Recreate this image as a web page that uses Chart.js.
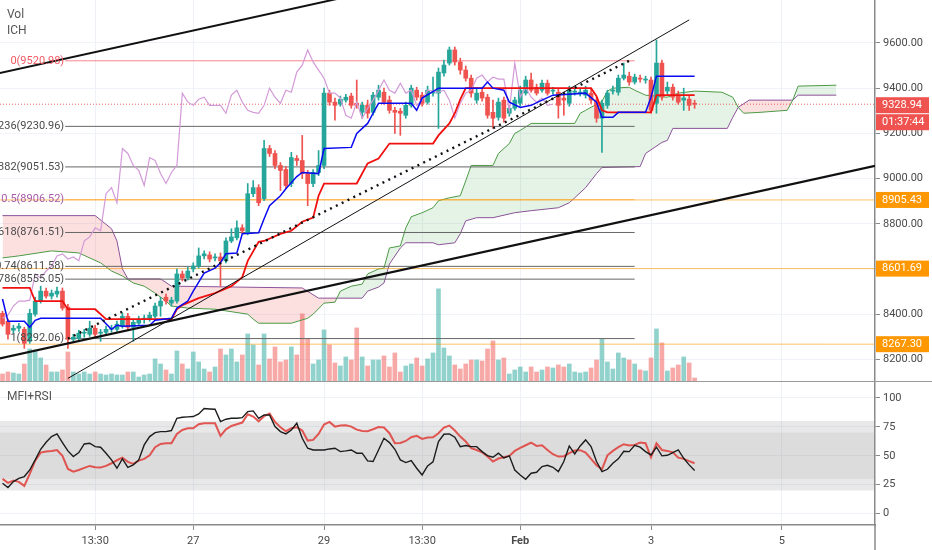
<!DOCTYPE html>
<html lang="en">
<head>
<meta charset="UTF-8">
<title>BTC 2h Ichimoku</title>
<script src="https://cdn.jsdelivr.net/npm/chart.js"></script>
<style>
  body { margin: 0; background: #fff; }
  #wrap { position: relative; width: 932px; height: 550px; overflow: hidden; }
  canvas { position: absolute; left: 0; }
  #main { top: 0; }
  #osc { top: 382px; }
</style>
</head>
<body>
<div id="wrap">
  <canvas id="main" width="932" height="382"></canvas>
  <canvas id="osc" width="932" height="168"></canvas>
</div>
<script>
// axis ticks
const priceTicks = [8200, 8400, 8600, 8800, 9000, 9200, 9400, 9600];
const oscTicks = [0, 25, 50, 75, 100];
const dayTicks = [17, 35, 59, 77, 95, 119, 143];
const dayLabels = ['13:30', '27', '29', '13:30', 'Feb', '3', '5'];

// 2h candles, index 0..127
const opens = [8404,8369,8329,8338,8333,8280,8400,8458,8502,8480,
  8489,8502,8431,8289,8293,8316,8311,8338,8316,8320,
  8333,8333,8347,8391,8342,8360,8378,8378,8391,8436,
  8475,8449,8458,8578,8560,8600,8613,8658,8662,8649,
  8653,8636,8724,8738,8782,8760,8933,8960,8911,9133,
  9111,9058,9040,8978,9089,9080,9022,8978,9027,9058,
  9378,9338,9329,9347,9365,9333,9293,9324,9293,9360,
  9382,9347,9302,9298,9280,9324,9391,9369,9338,9378,
  9378,9467,9511,9569,9516,9480,9444,9347,9382,9360,
  9293,9271,9347,9289,9311,9333,9378,9436,9404,9391,
  9422,9387,9382,9356,9333,9382,9378,9369,9378,9347,
  9267,9324,9387,9382,9444,9453,9427,9444,9436,9436,
  9333,9511,9387,9404,9369,9347,9351,9333];
const highs = [8413,8378,8351,8360,8342,8422,8475,8524,8516,8507,
  8520,8516,8444,8311,8329,8333,8369,8351,8333,8347,
  8351,8369,8404,8404,8378,8391,8396,8409,8449,8475,
  8489,8475,8600,8591,8609,8627,8693,8680,8676,8667,
  8671,8738,8778,8813,8796,8978,8991,8973,9169,9147,
  9124,9071,9053,9116,9102,9191,9036,9040,9124,9400,
  9391,9356,9365,9373,9378,9436,9338,9347,9382,9413,
  9400,9365,9315,9311,9338,9413,9404,9382,9409,9449,
  9489,9524,9582,9582,9533,9498,9458,9400,9400,9373,
  9347,9356,9360,9324,9360,9409,9453,9467,9418,9436,
  9436,9404,9396,9373,9409,9400,9400,9409,9396,9360,
  9347,9391,9409,9458,9511,9471,9462,9458,9453,9449,
  9613,9524,9427,9418,9387,9400,9365,9347];
const lows = [8347,8289,8316,8324,8249,8271,8391,8449,8471,8467,
  8475,8418,8249,8276,8280,8298,8302,8298,8280,8307,
  8320,8324,8338,8329,8280,8351,8360,8369,8382,8391,
  8444,8436,8449,8547,8551,8587,8604,8644,8631,8636,
  8524,8627,8716,8729,8756,8751,8920,8880,8902,9098,
  9044,8947,8955,8964,9058,9000,8880,8964,9013,9044,
  9324,9258,9320,9338,9311,9311,9267,9267,9280,9347,
  9329,9289,9200,9191,9267,9315,9347,9320,9329,9365,
  9222,9453,9502,9502,9462,9431,9360,9333,9342,9267,
  9222,9258,9249,9276,9302,9320,9369,9382,9369,9382,
  9369,9373,9267,9280,9320,9369,9365,9356,9333,9249,
  9116,9311,9373,9369,9436,9413,9418,9427,9422,9289,
  9289,9347,9373,9347,9329,9302,9302,9311];
const closes = [8356,8311,8338,8347,8271,8404,8458,8502,8480,8493,
  8502,8427,8289,8298,8316,8320,8338,8311,8320,8333,
  8338,8356,8391,8342,8364,8378,8382,8396,8436,8458,
  8458,8462,8578,8560,8591,8613,8658,8667,8644,8653,
  8636,8724,8742,8782,8769,8933,8960,8893,9133,9111,
  9058,9036,8969,9093,9080,9022,8978,9027,9058,9378,
  9338,9324,9351,9360,9324,9324,9324,9289,9369,9391,
  9338,9302,9293,9289,9324,9400,9360,9333,9391,9382,
  9471,9502,9569,9516,9480,9444,9378,9378,9356,9280,
  9267,9338,9267,9311,9347,9391,9436,9391,9378,9422,
  9378,9391,9324,9347,9391,9387,9382,9391,9347,9267,
  9333,9378,9391,9444,9458,9427,9449,9440,9440,9302,
  9511,9360,9404,9360,9338,9356,9324,9328.94];
const volumes = [8,10,9,8,18,33,32,24,17,10,
  10,12,30,10,8,10,8,10,8,7,
  8,7,7,10,10,5,7,8,23,18,
  12,8,31,18,13,30,20,13,10,15,
  33,27,33,20,27,48,37,17,48,23,
  35,20,22,35,27,68,43,18,22,52,
  37,19,16,25,22,54,25,16,22,22,
  26,15,29,10,16,18,24,16,23,29,
  93,34,26,17,13,18,22,22,21,33,
  41,22,24,8,12,15,10,15,10,12,
  15,14,17,15,18,10,9,10,14,22,
  43,20,13,29,24,22,18,12,11,24,
  53,39,11,14,17,25,19,4];

// Ichimoku lines (candle index, price)
const tenkanIdx = [0,1,4,5,6,7,18,20,21,22,27,28,31,32,34,35,37,39,40,41,43,44,47,48,49,51,52,54,55,58,
  59,64,65,67,68,69,75,76,77,80,88,89,90,92,93,95,97,99,101,107,109,110,112,113,118,119,120,127];
const tenkanVal = [8467,8369,8369,8342,8373,8382,8382,8333,8351,8347,8351,8373,8382,8427,8458,8502,8582,8604,8627,8667,
  8671,8756,8760,8822,8880,8924,8955,9009,9027,9022,9133,9138,9200,9244,9289,9333,9333,9302,9356,9400,
  9400,9427,9400,9391,9338,9315,9324,9347,9369,9378,9338,9271,9271,9293,9293,9360,9453,9453];
const kijunIdx = [0,5,6,11,12,17,19,31,32,33,36,39,42,44,45,47,48,51,53,55,
  57,58,59,65,67,69,71,79,80,82,83,84,85,108,109,110,111,119,120,127];
const kijunVal = [8516,8516,8458,8458,8422,8422,8378,8378,8422,8440,8471,8493,8524,8564,8636,8720,8724,8755,8769,8809,
  8827,8924,8978,8978,9067,9089,9155,9155,9191,9244,9289,9350,9400,9400,9364,9302,9293,9293,9369,9369];
const spanAIdx = [0,3,9,14,16,18,20,22,24,26,28,30,31,34,39,45,46,47,53,56,57,59,61,62,64,66,67,69,70,71,73,
  74,75,77,79,80,82,84,85,86,90,91,93,94,95,97,105,106,107,110,111,112,115,116,118,122,124,127,132,134,135,
  136,139,144,145,146,153];
const spanAVal = [8649,8658,8680,8671,8649,8627,8591,8569,8538,8524,8493,8458,8436,8427,8422,8400,8378,8360,8360,8382,8400,
  8449,8453,8502,8524,8533,8578,8600,8604,8693,8702,8782,8831,8849,8871,8902,8915,8924,8990,9058,9058,
  9111,9155,9200,9213,9244,9244,9289,9302,9342,9387,9400,9404,9391,9369,9360,9378,9387,9382,9360,9315,
  9289,9293,9302,9347,9409,9413];
const spanBIdx = [0,17,20,21,22,23,29,31,55,58,66,67,69,70,71,73,74,79,80,83,
  84,85,87,90,94,97,102,104,105,107,109,110,117,118,121,122,123,133,134,135,137,145,146,153];
const spanBVal = [8836,8836,8778,8724,8600,8556,8556,8524,8516,8471,8471,8502,8520,8538,8622,8693,8716,8716,8707,8716,
  8756,8813,8827,8827,8849,8858,8871,8893,8915,8960,9022,9049,9053,9111,9160,9169,9222,9222,9271,9315,
  9347,9347,9369,9369];
const chikouShift = 26;

// fibonacci retracement
const fibLevels = ['0', '0.236', '0.382', '0.5', '0.618', '0.74', '0.786', '1'];
const fibPrices = [9520.98, 9230.96, 9051.53, 8906.52, 8761.51, 8611.58, 8555.05, 8292.06];
const fibRange = [11.5, 116];
const fibTrend = [[12, 8292.06], [115, 9520.98]];

// horizontal alerts and current price
const alertLevels = [8905.43, 8601.69, 8267.30];
const lastPrice = 9328.94;
const countdown = '01:37:44';

// trend lines
const trendTop = [[-0.5, 9467], [62, 9798]];
const trendLow = [[-0.5, 8204], [160.1, 9056]];
const trendThin = [[12, 8116], [126, 9702]];

// oscillators
const mfi = [26.2,22.5,27.7,30.5,32.0,37.7,46.4,55.6,61.7,66.6,
  68.9,61.4,54.2,49.3,52.7,60.2,60.8,57.9,57.4,52.2,
  46.4,39.2,47.3,40.0,42.1,46.4,59.4,66.6,70.0,70.9,
  70.9,71.8,82.4,83.3,83.6,83.9,86.2,90.8,90.5,90.2,
  79.6,81.6,82.4,82.4,83.0,88.2,88.8,82.4,85.3,85.3,
  75.2,70.9,68.9,72.3,78.1,65.1,56.5,55.0,55.0,55.0,
  55.9,56.5,53.6,54.2,55.0,52.2,52.2,45.5,45.0,55.0,
  65.1,61.4,55.6,46.4,44.1,45.8,39.2,33.4,41.2,44.7,
  62.3,68.6,68.9,66.0,57.9,58.8,57.9,57.9,53.6,50.1,
  48.7,52.2,48.1,49.9,37.7,33.4,29.7,34.9,35.7,40.6,
  41.8,40.0,36.3,45.0,58.5,51.6,58.5,63.7,57.9,45.0,
  36.3,38.3,43.5,47.3,53.9,53.6,59.1,57.4,53.6,50.7,
  57.4,49.9,50.4,52.7,55.0,47.8,42.1,37.2];
const rsi = [30.0,26.5,28.5,27.4,23.9,34.3,45.8,52.7,53.6,54.2,
  55.0,49.9,38.6,36.3,37.7,39.5,41.2,40.0,39.8,41.2,
  43.5,46.1,48.4,44.7,42.9,45.8,47.3,50.4,57.4,60.2,
  60.8,60.8,68.9,72.3,73.8,73.8,77.2,78.1,78.1,78.1,
  67.2,72.9,75.8,77.2,78.7,85.9,83.9,79.8,84.2,86.5,
  79.3,74.7,71.2,73.8,74.7,71.8,63.1,63.7,68.9,77.0,
  79.3,75.2,76.1,76.4,75.2,72.6,71.5,71.2,72.9,74.9,
  74.4,69.5,60.8,61.1,62.8,66.0,67.2,64.6,65.7,66.0,
  69.5,74.4,76.1,71.8,66.6,62.3,56.5,55.0,53.0,49.3,
  45.0,47.6,48.7,49.9,54.2,56.8,59.1,61.4,58.5,59.1,
  55.0,51.3,49.3,49.6,52.2,54.5,54.8,52.7,47.3,41.8,
  38.3,50.4,54.2,57.4,60.0,58.8,59.4,61.4,60.8,48.7,
  60.8,55.0,54.2,53.0,48.4,47.3,45.3,43.5];
const mfiBand = [20, 80];
const rsiBand = [30, 70];

// visible window
const xMin = -0.46, xMax = 160.1;
const priceMin = 8100, priceMax = 9790;
const oscMin = -9.9, oscMax = 113.8;

const UP = '#26a69a', DOWN = '#ef5350';
const fibTextColors = ['#f05a64', '#4a4a4a', '#4a4a4a', '#a65aa8', '#4a4a4a', '#4a4a4a', '#4a4a4a', '#4a4a4a'];
const fibLineColors = ['rgba(242,54,69,0.6)', '#666', '#666', 'rgba(255,152,0,0.6)', '#666', '#666', '#666', '#666'];

Chart.defaults.font.family = 'Roboto, sans-serif';
Chart.defaults.font.size = 11;
Chart.defaults.color = '#4a4a4a';
Chart.defaults.elements.point.radius = 0;

const pts = (idx, val) => idx.map((x, k) => ({ x, y: val[k] }));
const seg = pair => pair.map(([x, y]) => ({ x, y }));
const isUp = k => closes[k] >= opens[k];
const noPad = s => { s.paddingTop = 0; s.paddingBottom = 0; s.paddingLeft = 0; s.paddingRight = 0; };

function lineSet(data, color, width, order, extra) {
  return Object.assign({ type: 'line', data, borderColor: color, borderWidth: width, order, fill: false }, extra || {});
}

const datasets = [
  lineSet(seg(trendTop), '#111', 2, 0),
  lineSet(seg(trendLow), '#111', 2.2, 0),
  lineSet(seg(trendThin), '#111', 1, 0),
  lineSet(seg(fibTrend), '#111', 2.4, 0, { borderDash: [2, 4.5] }),
  lineSet(pts(tenkanIdx, tenkanVal), '#0a0af0', 1.5, 1),
  lineSet(pts(kijunIdx, kijunVal), '#f01010', 1.8, 1),
  lineSet(closes.slice(chikouShift).map((c, k) => ({ x: k, y: c })), '#d39ad8', 1.2, 2),
  {
    type: 'bar', order: 3, grouped: false, barThickness: 4, minBarLength: 1,
    data: closes.map((c, k) => ({ x: k, y: [opens[k], c] })),
    backgroundColor: ctx => isUp(ctx.dataIndex) ? UP : DOWN
  },
  {
    type: 'bar', order: 4, grouped: false, barThickness: 1,
    data: highs.map((h, k) => ({ x: k, y: [lows[k], h] })),
    backgroundColor: ctx => isUp(ctx.dataIndex) ? UP : DOWN
  },
  lineSet([{ x: xMin, y: lastPrice }, { x: xMax, y: lastPrice }], 'rgba(239,83,80,0.9)', 1, 5, { borderDash: [1, 2] }),
  ...fibPrices.map((p, k) => lineSet([{ x: fibRange[0], y: p }, { x: fibRange[1], y: p }], fibLineColors[k], 1, 5)),
  ...alertLevels.map(v => lineSet([{ x: xMin, y: v }, { x: xMax, y: v }], 'rgba(255,152,0,0.6)', 1, 5)),
  lineSet(pts(spanAIdx, spanAVal), '#4b9a45', 1, 6, {
    fill: { target: '+1', above: 'rgba(76,175,80,0.15)', below: 'rgba(239,83,80,0.18)' }
  }),
  lineSet(pts(spanBIdx, spanBVal), '#8b4f9f', 1, 6),
  {
    type: 'bar', order: 7, grouped: false, barThickness: 4, yAxisID: 'yv',
    data: volumes.map((v, k) => ({ x: k, y: v })),
    backgroundColor: ctx => isUp(ctx.dataIndex) ? 'rgba(38,166,154,0.5)' : 'rgba(239,83,80,0.5)'
  }
];

const mainOverlay = {
  id: 'mainOverlay',
  afterDatasetsDraw(chart) {
    const { ctx, scales: { x, y } } = chart;
    ctx.save();
    ctx.font = '11px Roboto, sans-serif';
    ctx.textAlign = 'right';
    ctx.textBaseline = 'middle';
    const lx = x.getPixelForValue(fibRange[0]) - 1;
    fibPrices.forEach((p, k) => {
      ctx.fillStyle = fibTextColors[k];
      ctx.fillText(fibLevels[k] + '(' + p.toFixed(2) + ')', lx, y.getPixelForValue(p));
    });
    ctx.textAlign = 'left';
    ctx.font = '12px Roboto, sans-serif';
    ctx.fillStyle = '#555';
    ctx.fillText('Vol', 7, 15);
    ctx.fillText('ICH', 7, 31);
    ctx.restore();
  },
  afterDraw(chart) {
    const { ctx, chartArea, scales: { y } } = chart;
    ctx.save();
    ctx.font = '11px Roboto, sans-serif';
    ctx.textAlign = 'left';
    ctx.textBaseline = 'middle';
    const tag = (py, bg, text) => {
      ctx.fillStyle = bg;
      ctx.fillRect(chartArea.right + 1, py - 8, 53, 16);
      ctx.fillStyle = '#fff';
      ctx.fillText(text, chartArea.right + 7, py);
    };
    alertLevels.forEach(v => tag(y.getPixelForValue(v), '#ff9800', v.toFixed(2)));
    const py = y.getPixelForValue(lastPrice) + 1;
    tag(py, '#ef5350', lastPrice.toFixed(2));
    tag(py + 17, '#ef5350', countdown);
    ctx.strokeStyle = '#9a9a9a';
    ctx.lineWidth = 1;
    ctx.beginPath();
    ctx.moveTo(0, chart.height - 0.5);
    ctx.lineTo(chart.width, chart.height - 0.5);
    ctx.stroke();
    ctx.restore();
  }
};

new Chart(document.getElementById('main'), {
  type: 'line',
  data: { datasets },
  options: {
    animation: false,
    responsive: false,
    layout: { padding: 0, autoPadding: false },
    plugins: { legend: { display: false }, tooltip: { enabled: false } },
    scales: {
      x: {
        type: 'linear', min: xMin, max: xMax, offset: false,
        grid: { color: '#eef1f6', drawTicks: false, offset: false },
        border: { display: false },
        ticks: { display: false },
        afterBuildTicks: s => { s.ticks = dayTicks.map(v => ({ value: v })); },
        afterFit: s => { s.height = 0; noPad(s); }
      },
      y: {
        position: 'right', min: priceMin, max: priceMax,
        grid: { color: '#f0f3fa', tickLength: 5, tickColor: '#8a8a8a' },
        border: { color: '#8a8a8a', width: 1.5 },
        ticks: { padding: 3, callback: v => v.toFixed(2) },
        afterBuildTicks: s => { s.ticks = priceTicks.map(v => ({ value: v })); },
        afterFit: s => { s.width = 57; noPad(s); }
      },
      yv: { display: false, min: 0, max: Math.max(...volumes) * 4.1 }
    }
  },
  plugins: [mainOverlay]
});

const oscOverlay = {
  id: 'oscOverlay',
  beforeDatasetsDraw(chart) {
    const { ctx, chartArea: a, scales: { y } } = chart;
    ctx.save();
    const band = (lo, hi, color) => {
      const t = y.getPixelForValue(hi), b = y.getPixelForValue(lo);
      ctx.fillStyle = color;
      ctx.fillRect(a.left, t, a.right - a.left, b - t);
    };
    band(mfiBand[0], mfiBand[1], 'rgba(150,150,150,0.22)');
    band(rsiBand[0], rsiBand[1], 'rgba(150,150,150,0.14)');
    ctx.restore();
  },
  afterDraw(chart) {
    const { ctx, chartArea: a } = chart;
    ctx.save();
    ctx.font = '12px Roboto, sans-serif';
    ctx.fillStyle = '#555';
    ctx.textBaseline = 'middle';
    ctx.fillText('MFI+RSI', 7, 15);
    ctx.strokeStyle = '#8a8a8a';
    ctx.lineWidth = 1.5;
    ctx.beginPath();
    ctx.moveTo(a.right, a.bottom);
    ctx.lineTo(a.right, chart.height);
    ctx.stroke();
    ctx.restore();
  }
};

new Chart(document.getElementById('osc'), {
  type: 'line',
  data: {
    datasets: [
      lineSet(mfi.map((v, k) => ({ x: k, y: v })), '#1c1c1c', 1.4, 0),
      lineSet(rsi.map((v, k) => ({ x: k, y: v })), 'rgba(224,70,65,0.9)', 2, 1)
    ]
  },
  options: {
    animation: false,
    responsive: false,
    layout: { padding: 0, autoPadding: false },
    plugins: { legend: { display: false }, tooltip: { enabled: false } },
    scales: {
      x: {
        type: 'linear', min: xMin, max: xMax, offset: false,
        grid: { color: '#eef1f6', tickLength: 5, tickColor: '#8a8a8a' },
        border: { color: '#8a8a8a', width: 1.5 },
        ticks: {
          padding: 5, maxRotation: 0, autoSkip: false,
          callback: (v, i) => dayLabels[i],
          font: ctx => ({ size: 11, weight: dayLabels[ctx.index] === 'Feb' ? 'bold' : 'normal' })
        },
        afterBuildTicks: s => { s.ticks = dayTicks.map(v => ({ value: v })); },
        afterFit: s => { s.height = 25; noPad(s); }
      },
      y: {
        position: 'right', min: oscMin, max: oscMax,
        grid: { color: '#eef1f6', tickLength: 5, tickColor: '#8a8a8a' },
        border: { color: '#8a8a8a', width: 1.5 },
        ticks: { padding: 3, callback: v => String(v) },
        afterBuildTicks: s => { s.ticks = oscTicks.map(v => ({ value: v })); },
        afterFit: s => { s.width = 57; noPad(s); }
      }
    }
  },
  plugins: [oscOverlay]
});
</script>
</body>
</html>
